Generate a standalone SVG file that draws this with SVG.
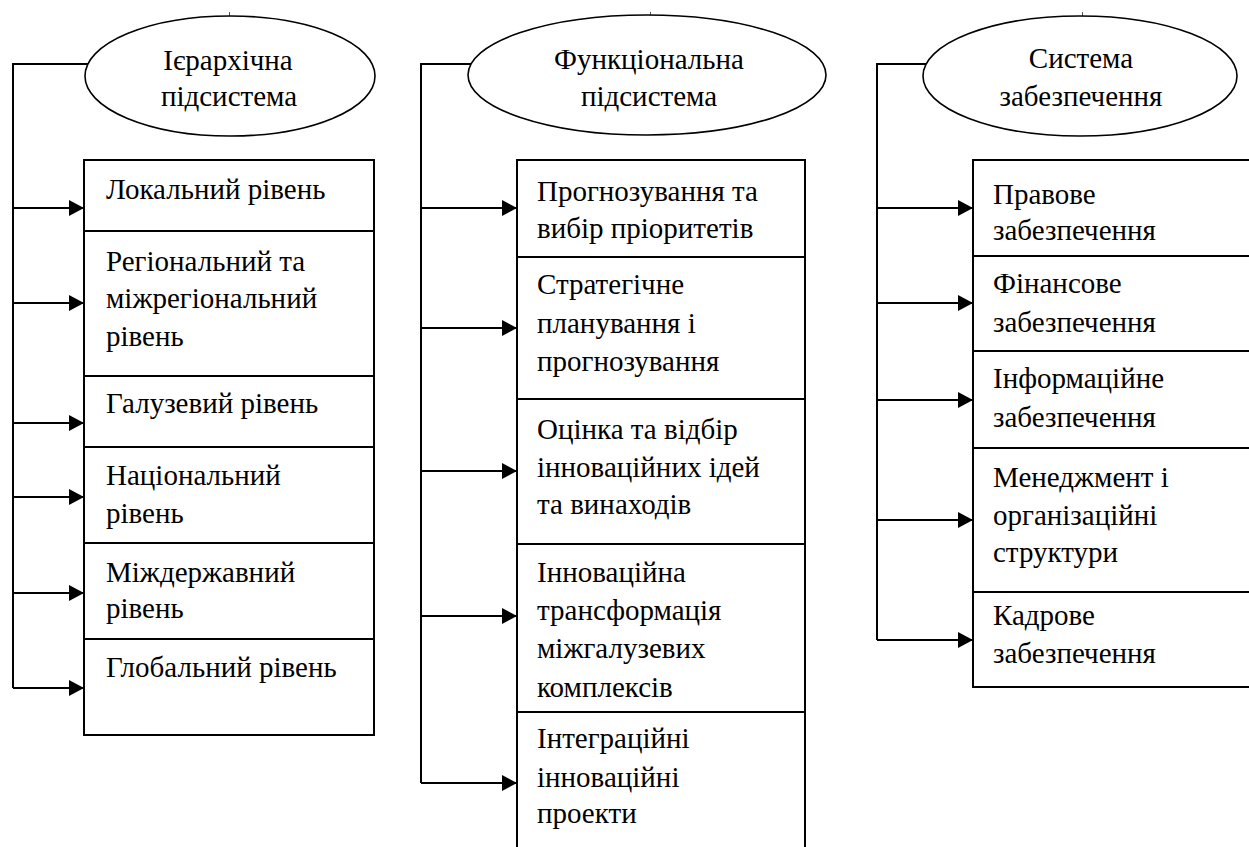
<svg xmlns="http://www.w3.org/2000/svg" width="1249" height="847" viewBox="0 0 1249 847">
<style>
.bg{fill:#ffffff}
.box{fill:#ffffff;stroke:#000;stroke-width:2}
.ell{fill:#ffffff;stroke:#000;stroke-width:1.6}
.t{font-family:'Liberation Serif','DejaVu Serif',serif;font-size:29px;fill:#000}
.c{text-anchor:middle}
.ln{fill:none;stroke:#000;stroke-width:2}
.tick{stroke:#555;stroke-width:1}
</style>
<defs>
<marker id="ah" markerWidth="16" markerHeight="16" refX="15" refY="8" orient="auto" markerUnits="userSpaceOnUse">
<path d="M0,0 L15,8 L0,16 z" fill="#000"/>
</marker>
</defs>
<rect class="bg" x="0" y="0" width="1249" height="847"/>

<g id="connectors">
<polyline class="ln" points="88,64 13,64 13,688"/>
<line class="ln" x1="13" y1="208" x2="84" y2="208" marker-end="url(#ah)"/>
<line class="ln" x1="13" y1="303" x2="84" y2="303" marker-end="url(#ah)"/>
<line class="ln" x1="13" y1="423" x2="84" y2="423" marker-end="url(#ah)"/>
<line class="ln" x1="13" y1="497" x2="84" y2="497" marker-end="url(#ah)"/>
<line class="ln" x1="13" y1="593" x2="84" y2="593" marker-end="url(#ah)"/>
<line class="ln" x1="13" y1="688" x2="84" y2="688" marker-end="url(#ah)"/>

<polyline class="ln" points="471,64 421,64 421,783"/>
<line class="ln" x1="421" y1="208" x2="517" y2="208" marker-end="url(#ah)"/>
<line class="ln" x1="421" y1="328" x2="517" y2="328" marker-end="url(#ah)"/>
<line class="ln" x1="421" y1="471" x2="517" y2="471" marker-end="url(#ah)"/>
<line class="ln" x1="421" y1="616" x2="517" y2="616" marker-end="url(#ah)"/>
<line class="ln" x1="421" y1="783" x2="517" y2="783" marker-end="url(#ah)"/>

<polyline class="ln" points="926,64 877,64 877,640"/>
<line class="ln" x1="877" y1="208" x2="973" y2="208" marker-end="url(#ah)"/>
<line class="ln" x1="877" y1="303" x2="973" y2="303" marker-end="url(#ah)"/>
<line class="ln" x1="877" y1="400" x2="973" y2="400" marker-end="url(#ah)"/>
<line class="ln" x1="877" y1="520" x2="973" y2="520" marker-end="url(#ah)"/>
<line class="ln" x1="877" y1="640" x2="973" y2="640" marker-end="url(#ah)"/>

<line class="tick" x1="229.5" y1="12" x2="229.5" y2="16"/>
<line class="tick" x1="650.5" y1="12" x2="650.5" y2="15"/>
<line class="tick" x1="1082.5" y1="12" x2="1082.5" y2="16"/>
</g>

<!-- Left column -->
<g id="hier-head">
<ellipse class="ell" cx="230" cy="76" rx="145" ry="60"/>
<text class="t c" x="228" y="70">Ієрархічна</text>
<text class="t c" x="229" y="106">підсистема</text>
</g>
<g id="hier-1">
<rect class="box" x="84" y="160" width="290" height="71"/>
<text class="t" x="106" y="199">Локальний рівень</text>
</g>
<g id="hier-2">
<rect class="box" x="84" y="231" width="290" height="145"/>
<text class="t" x="106" y="271">Регіональний та</text>
<text class="t" x="106" y="308">міжрегіональний</text>
<text class="t" x="106" y="346">рівень</text>
</g>
<g id="hier-3">
<rect class="box" x="84" y="376" width="290" height="71"/>
<text class="t" x="106" y="413">Галузевий рівень</text>
</g>
<g id="hier-4">
<rect class="box" x="84" y="447" width="290" height="96"/>
<text class="t" x="106" y="485">Національний</text>
<text class="t" x="106" y="523">рівень</text>
</g>
<g id="hier-5">
<rect class="box" x="84" y="543" width="290" height="96"/>
<text class="t" x="106" y="582">Міждержавний</text>
<text class="t" x="106" y="618">рівень</text>
</g>
<g id="hier-6">
<rect class="box" x="84" y="639" width="290" height="96"/>
<text class="t" x="106" y="677">Глобальний рівень</text>
</g>

<!-- Middle column -->
<g id="func-head">
<ellipse class="ell" cx="647" cy="75" rx="179" ry="60"/>
<text class="t c" x="649" y="69">Функціональна</text>
<text class="t c" x="649" y="106">підсистема</text>
</g>
<g id="func-1">
<rect class="box" x="517" y="160" width="288" height="97"/>
<text class="t" x="537" y="201">Прогнозування та</text>
<text class="t" x="537" y="238">вибір пріоритетів</text>
</g>
<g id="func-2">
<rect class="box" x="517" y="257" width="288" height="142"/>
<text class="t" x="537" y="294">Стратегічне</text>
<text class="t" x="537" y="333">планування і</text>
<text class="t" x="537" y="371">прогнозування</text>
</g>
<g id="func-3">
<rect class="box" x="517" y="399" width="288" height="145"/>
<text class="t" x="537" y="439">Оцінка та відбір</text>
<text class="t" x="537" y="477">інноваційних ідей</text>
<text class="t" x="537" y="514">та винаходів</text>
</g>
<g id="func-4">
<rect class="box" x="517" y="544" width="288" height="168"/>
<text class="t" x="537" y="582">Інноваційна</text>
<text class="t" x="537" y="620">трансформація</text>
<text class="t" x="537" y="658">міжгалузевих</text>
<text class="t" x="537" y="697">комплексів</text>
</g>
<g id="func-5">
<rect class="box" x="517" y="712" width="288" height="160"/>
<text class="t" x="537" y="748">Інтеграційні</text>
<text class="t" x="537" y="787">інноваційні</text>
<text class="t" x="537" y="823">проекти</text>
</g>

<!-- Right column -->
<g id="supp-head">
<ellipse class="ell" cx="1080" cy="76" rx="157" ry="60"/>
<text class="t c" x="1081" y="68">Система</text>
<text class="t c" x="1081" y="106">забезпечення</text>
</g>
<g id="supp-1">
<rect class="box" x="973" y="160" width="300" height="96"/>
<text class="t" x="993" y="204">Правове</text>
<text class="t" x="993" y="240">забезпечення</text>
</g>
<g id="supp-2">
<rect class="box" x="973" y="256" width="300" height="95"/>
<text class="t" x="993" y="293">Фінансове</text>
<text class="t" x="993" y="332">забезпечення</text>
</g>
<g id="supp-3">
<rect class="box" x="973" y="351" width="300" height="97"/>
<text class="t" x="993" y="388">Інформаційне</text>
<text class="t" x="993" y="427">забезпечення</text>
</g>
<g id="supp-4">
<rect class="box" x="973" y="448" width="300" height="144"/>
<text class="t" x="993" y="487">Менеджмент і</text>
<text class="t" x="993" y="525">організаційні</text>
<text class="t" x="993" y="562">структури</text>
</g>
<g id="supp-5">
<rect class="box" x="973" y="592" width="300" height="95"/>
<text class="t" x="993" y="625">Кадрове</text>
<text class="t" x="993" y="663">забезпечення</text>
</g>
</svg>
